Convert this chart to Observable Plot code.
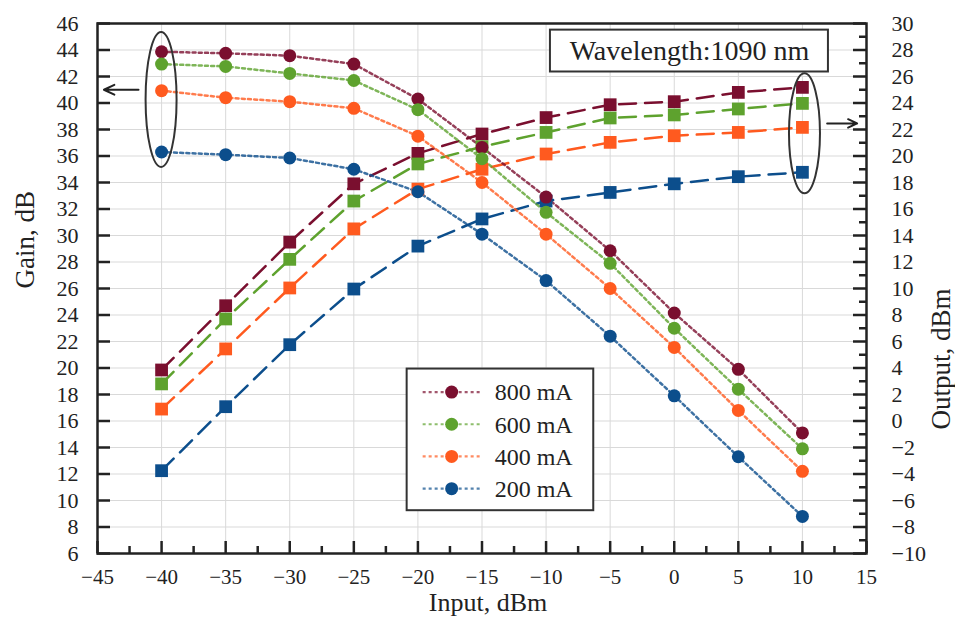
<!DOCTYPE html>
<html>
<head>
<meta charset="utf-8">
<script src="https://cdn.jsdelivr.net/npm/d3@7"></script>
<script src="https://cdn.jsdelivr.net/npm/@observablehq/plot@0.6"></script>
<style>
  html, body { margin: 0; padding: 0; background: #fff; }
  #chart { width: 955px; height: 625px; }
  #chart svg, #chart svg text { font-family: "Liberation Serif", "Times New Roman", serif !important; }
</style>
</head>
<body>
<div id="chart"></div>
<script>
// ---------------- DATA ----------------
const inputDbm = [-40, -35, -30, -25, -20, -15, -10, -5, 0, 5, 10];
const currents = ["800 mA", "600 mA", "400 mA", "200 mA"];
const seriesColors = ["#7a0f2f", "#5ea22e", "#ff5a1f", "#0c4e8c"];

// Gain, dB (left axis) – dotted lines with circles
const gain800 = [43.87, 43.75, 43.57, 42.94, 40.3, 36.65, 32.9, 28.85, 24.15, 19.9, 15.1];
const gain600 = [42.94, 42.76, 42.23, 41.7, 39.5, 35.8, 31.75, 27.9, 23.0, 18.4, 13.9];
const gain400 = [40.93, 40.4, 40.1, 39.6, 37.5, 34.0, 30.1, 26.0, 21.55, 16.8, 12.2];
const gain200 = [36.3, 36.1, 35.85, 35.0, 33.3, 30.1, 26.6, 22.4, 17.9, 13.3, 8.8];

// Output, dBm (right axis) – dashed lines with squares
const out800 = [3.85, 8.7, 13.5, 17.9, 20.2, 21.66, 22.9, 23.87, 24.1, 24.8, 25.18];
const out600 = [2.8, 7.7, 12.2, 16.6, 19.4, 20.7, 21.78, 22.87, 23.1, 23.55, 23.97];
const out400 = [0.9, 5.44, 10.04, 14.5, 17.5, 19.0, 20.15, 21.03, 21.53, 21.78, 22.16];
const out200 = [-3.75, 1.08, 5.76, 9.96, 13.2, 15.25, 16.6, 17.25, 17.9, 18.44, 18.77];

// Tick labels
const xTicks = [-45, -40, -35, -30, -25, -20, -15, -10, -5, 0, 5, 10, 15];
const xMinorTicks = [-42.5, -37.5, -32.5, -27.5, -22.5, -17.5, -12.5, -7.5, -2.5, 2.5, 7.5, 12.5];
const gainTicks = [6, 8, 10, 12, 14, 16, 18, 20, 22, 24, 26, 28, 30, 32, 34, 36, 38, 40, 42, 44, 46];
const outputTicks = [-10, -8, -6, -4, -2, 0, 2, 4, 6, 8, 10, 12, 14, 16, 18, 20, 22, 24, 26, 28, 30];
const outputMinorTicks = [-9, -7, -5, -3, -1, 1, 3, 5, 7, 9, 11, 13, 15, 17, 19, 21, 23, 25, 27, 29];

const gainDomain = [6, 46];
const outputDomain = [-10, 30];
const inputDomain = [-45, 15];

const annotationText = "Wavelength:1090 nm";
const xLabel = "Input, dBm";
const yLeftLabel = "Gain, dB";
const yRightLabel = "Output, dBm";

// Annotation anchors (data coordinates)
const wavelengthBox = {x1: -9.66, x2: 12.03, y1: 42.34, y2: 45.5};
const ellipses = [{x: -40, yTop: 45.33, yBottom: 35.14}, {x: 10.2, yTop: 42.2, yBottom: 33.15}];
const arrows = [{x1: -41.8, x2: -44.5, y: 41.0}, {x1: 11.93, x2: 14.27, y: 38.46}];
const legendBox = {x1: -20.84, x2: -6.28, y1: 19.92, y2: 9.23};

// ---------------- BUILD ----------------
const offset = outputDomain[0] - gainDomain[0]; // output = gain-scale value + offset
const gains = [gain800, gain600, gain400, gain200];
const outs = [out800, out600, out400, out200];
const gainRows = currents.flatMap((c, i) => inputDbm.map((x, j) => ({x, v: gains[i][j], series: c})));
const outRows = currents.flatMap((c, i) => inputDbm.map((x, j) => ({x, v: outs[i][j] - offset, series: c})));

const W = 955, H = 625, mL = 97, mR = 89, mT = 23, mB = 72;
const fw = W - mL - mR, fh = H - mT - mB;
const fmt = d3.format("d");
const ink = "#222";
const serif = "Liberation Serif";

function ellipseMark(index, scales) {
  const {x, y} = scales;
  const g = d3.create("svg:g").attr("fill", "none").attr("stroke", "#333").attr("stroke-width", 2);
  for (const e of ellipses) {
    const t = y(e.yTop), b = y(e.yBottom);
    g.append("ellipse")
      .attr("cx", x(e.x)).attr("cy", (t + b) / 2)
      .attr("rx", 15.5).attr("ry", Math.abs(b - t) / 2);
  }
  return g.node();
}

function legendMark(index, scales) {
  const {x, y} = scales;
  const bx = x(legendBox.x1), by = y(legendBox.y1);
  const bw = x(legendBox.x2) - bx, bh = y(legendBox.y2) - by;
  const g = d3.create("svg:g");
  g.append("rect").attr("x", bx).attr("y", by).attr("width", bw).attr("height", bh)
    .attr("fill", "#fff").attr("stroke", "#333").attr("stroke-width", 2);
  currents.forEach((c, i) => {
    const cy = by + 23.5 + i * 32.2;
    g.append("line").attr("x1", bx + 16).attr("x2", bx + 74).attr("y1", cy).attr("y2", cy)
      .attr("stroke", seriesColors[i]).attr("stroke-width", 2.2).attr("stroke-dasharray", "3,3").attr("stroke-opacity", 0.7);
    g.append("circle").attr("cx", bx + 45).attr("cy", cy).attr("r", 6.5).attr("fill", seriesColors[i]);
    g.append("text").attr("x", bx + 88).attr("y", cy).attr("dy", "0.35em")
      .attr("text-anchor", "start")
      .style("font-family", "'Liberation Serif', serif").attr("font-size", 24).attr("fill", ink).text(c);
  });
  return g.node();
}

const chart = Plot.plot({
  width: W, height: H,
  marginLeft: mL, marginRight: mR, marginTop: mT, marginBottom: mB,
  style: {fontFamily: "'Liberation Serif', serif", fontSize: "21px", color: ink, background: "#fff"},
  x: {domain: inputDomain, label: null},
  y: {domain: gainDomain, label: null},
  color: {domain: currents, range: seriesColors},
  marks: [
    // grid
    Plot.ruleX(xTicks, {stroke: "#d9d9d9", strokeWidth: 1}),
    Plot.ruleY(gainTicks, {stroke: "#d9d9d9", strokeWidth: 1}),
    // output lines (dashed, squares)
    Plot.line(outRows, {x: "x", y: "v", z: "series", stroke: "series", strokeWidth: 2.5, strokeDasharray: "17,9"}),
    // gain lines (dotted, circles)
    Plot.line(gainRows, {x: "x", y: "v", z: "series", stroke: "series", strokeWidth: 2.5, strokeDasharray: "3,3.2", strokeOpacity: 0.8}),
    Plot.dot(outRows, {x: "x", y: "v", fill: "series", symbol: "square", r: 7.2}),
    Plot.dot(gainRows, {x: "x", y: "v", fill: "series", r: 6.5}),
    // annotations
    Plot.rect([wavelengthBox], {x1: "x1", x2: "x2", y1: "y1", y2: "y2", fill: "#fff", stroke: "#333", strokeWidth: 2}),
    Plot.text([annotationText], {x: (wavelengthBox.x1 + wavelengthBox.x2) / 2, y: (wavelengthBox.y1 + wavelengthBox.y2) / 2, fontSize: 28, fontFamily: serif, fill: ink}),
    ellipseMark,
    Plot.arrow(arrows, {x1: "x1", x2: "x2", y1: "y", y2: "y", stroke: ink, strokeWidth: 2, headLength: 11, headAngle: 50}),
    legendMark,
    // frame
    Plot.frame({stroke: ink, strokeWidth: 2.5}),
    // inward ticks
    Plot.ruleX(xTicks, {stroke: ink, strokeWidth: 2.5, insetTop: fh - 12}),
    Plot.ruleX(xMinorTicks, {stroke: ink, strokeWidth: 2.5, insetTop: fh - 7}),
    Plot.ruleY(gainTicks, {stroke: ink, strokeWidth: 2.5, insetRight: fw - 13}),
    Plot.ruleY(outputTicks, {y: d => d - offset, stroke: ink, strokeWidth: 2.5, insetLeft: fw - 13}),
    Plot.ruleY(outputMinorTicks, {y: d => d - offset, stroke: ink, strokeWidth: 2.5, insetLeft: fw - 7}),
    // axes labels
    Plot.axisX(xTicks, {anchor: "bottom", tickSize: 0, tickPadding: 16, tickFormat: fmt, label: null, fontSize: 21, fontFamily: serif}),
    Plot.axisY(gainTicks, {anchor: "left", tickSize: 0, tickPadding: 19, tickFormat: fmt, label: null, fontSize: 22, fontFamily: serif}),
    Plot.axisY(outputTicks.map(d => d - offset), {anchor: "right", tickSize: 0, tickPadding: 25, tickFormat: d => fmt(d + offset), label: null, fontSize: 22, fontFamily: serif}),
    // titles
    Plot.text([xLabel], {frameAnchor: "bottom", dy: 57, dx: 6, fontSize: 26, fontFamily: serif, fill: ink}),
    Plot.text([yLeftLabel], {frameAnchor: "left", dx: -72, rotate: -90, fontSize: 27, fontFamily: serif, fill: ink}),
    Plot.text([yRightLabel], {frameAnchor: "right", dx: 75, rotate: -90, fontSize: 27, fontFamily: serif, fill: ink})
  ]
});

document.getElementById("chart").appendChild(chart);
</script>
</body>
</html>
